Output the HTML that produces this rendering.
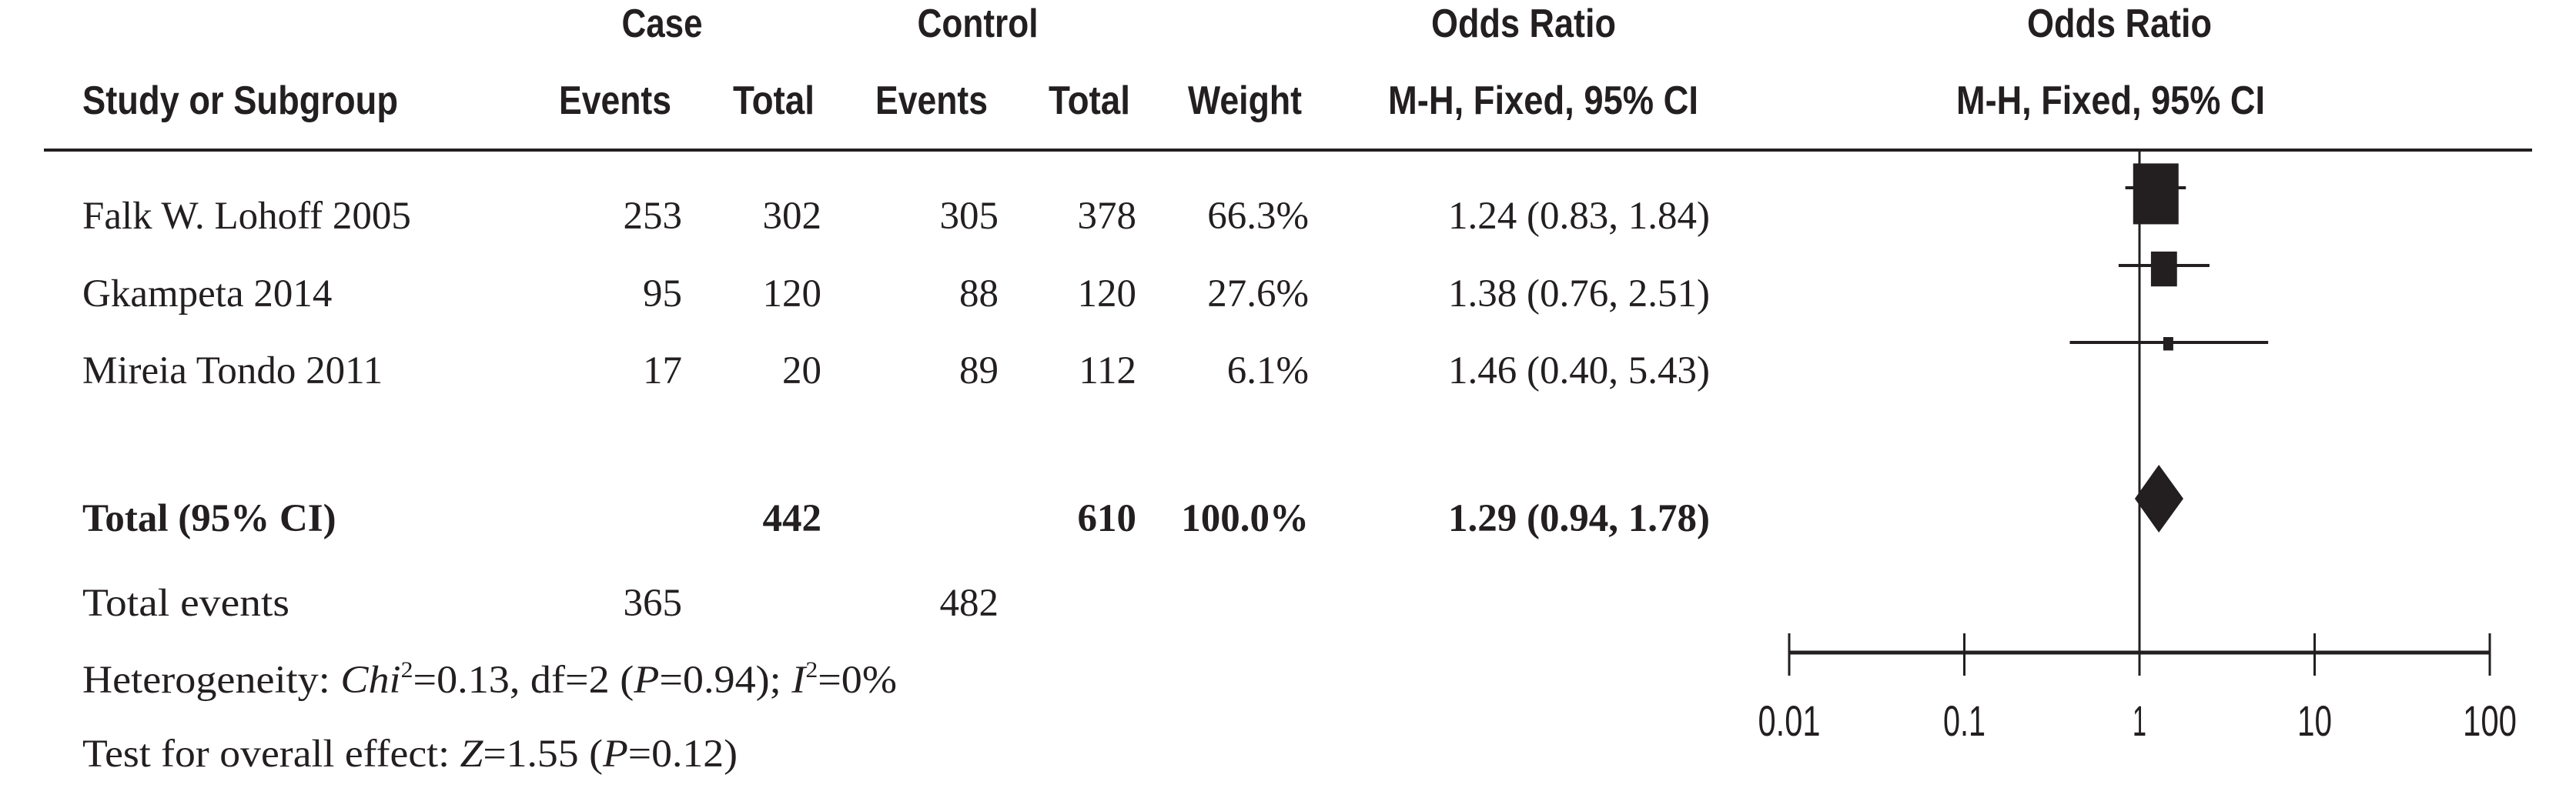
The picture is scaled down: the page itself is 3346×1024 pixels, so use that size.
<!DOCTYPE html>
<html><head><meta charset="utf-8"><style>
html,body{margin:0;padding:0;background:#fff;}
svg{display:block;}
.h{font-family:"Liberation Sans",Arial,sans-serif;font-weight:bold;font-size:52px;fill:#231f20;}
.b{font-family:"Liberation Serif","Times New Roman",serif;font-size:51px;fill:#231f20;}
.bb{font-weight:bold;}
.t{font-family:"Liberation Sans",Arial,sans-serif;font-size:56px;fill:#231f20;}
</style></head><body>
<svg id="chart" width="3346" height="1024" viewBox="0 0 3346 1024" xmlns="http://www.w3.org/2000/svg">
<rect width="3346" height="1024" fill="#fff"/>
<g>
<text class="h" x="860" y="48" text-anchor="middle" textLength="105" lengthAdjust="spacingAndGlyphs">Case</text>
<text class="h" x="1270" y="48" text-anchor="middle" textLength="157" lengthAdjust="spacingAndGlyphs">Control</text>
<text class="h" x="1979" y="48" text-anchor="middle" textLength="240" lengthAdjust="spacingAndGlyphs">Odds Ratio</text>
<text class="h" x="2753" y="48" text-anchor="middle" textLength="240" lengthAdjust="spacingAndGlyphs">Odds Ratio</text>
<text class="h" x="107" y="148" textLength="410" lengthAdjust="spacingAndGlyphs">Study or Subgroup</text>
<text class="h" x="726" y="148" textLength="146" lengthAdjust="spacingAndGlyphs">Events</text>
<text class="h" x="952" y="148" textLength="106" lengthAdjust="spacingAndGlyphs">Total</text>
<text class="h" x="1137" y="148" textLength="146" lengthAdjust="spacingAndGlyphs">Events</text>
<text class="h" x="1362" y="148" textLength="106" lengthAdjust="spacingAndGlyphs">Total</text>
<text class="h" x="1543" y="148" textLength="148" lengthAdjust="spacingAndGlyphs">Weight</text>
<text class="h" x="1803" y="148" textLength="403" lengthAdjust="spacingAndGlyphs">M-H, Fixed, 95% CI</text>
<text class="h" x="2541" y="148" textLength="401" lengthAdjust="spacingAndGlyphs">M-H, Fixed, 95% CI</text>
</g>
<line x1="57" y1="195" x2="3289" y2="195" stroke="#231f20" stroke-width="4"/>
<g id="table"></g>
<g id="plot"></g>
<g>
<text class="b" x="107" y="800" textLength="269" lengthAdjust="spacingAndGlyphs">Total events</text>
<text class="b" x="886" y="800" text-anchor="end">365</text>
<text class="b" x="1297" y="800" text-anchor="end">482</text>
<text class="b" x="107" y="900" textLength="1058" lengthAdjust="spacingAndGlyphs">Heterogeneity: <tspan font-style="italic">Chi</tspan><tspan font-size="30" dy="-20">2</tspan><tspan dy="20">=0.13, df=2 (</tspan><tspan font-style="italic">P</tspan>=0.94); <tspan font-style="italic">I</tspan><tspan font-size="30" dy="-20">2</tspan><tspan dy="20">=0%</tspan></text>
<text class="b" x="107" y="996" textLength="851" lengthAdjust="spacingAndGlyphs">Test for overall effect: <tspan font-style="italic">Z</tspan>=1.55 (<tspan font-style="italic">P</tspan>=0.12)</text>
</g>
</svg>
<script>
const studies = ["Falk W. Lohoff  2005", "Gkampeta 2014", "Mireia Tondo 2011"];
const caseEvents = [253, 95, 17];
const caseTotals = [302, 120, 20];
const ctrlEvents = [305, 88, 89];
const ctrlTotals = [378, 120, 112];
const weights = [66.3, 27.6, 6.1];
const orVals = [1.24, 1.38, 1.46];
const lowVals = [0.83, 0.76, 0.40];
const highVals = [1.84, 2.51, 5.43];
const totalOR = [1.29, 0.94, 1.78];
const totalCounts = [442, 610];
const ticks = [0.01, 0.1, 1, 10, 100];
const tickLabels = ["0.01", "0.1", "1", "10", "100"];

const NS = "http://www.w3.org/2000/svg";
const X1 = 2779, DEC = 227.5;
function xScale(v){ return X1 + DEC * Math.log10(v); }
const rowBase = [297, 398, 498];
const totalBase = 690;
const f2 = v => v.toFixed(2);
function mk(tag, parent, attrs){ const e = document.createElementNS(NS, tag); for (const k in attrs) e.setAttribute(k, attrs[k]); parent.appendChild(e); return e; }
const table = document.getElementById('table');
const plot = document.getElementById('plot');

studies.forEach((s, i) => {
  const y = rowBase[i];
  const cols = [[s,107,'start'],[caseEvents[i],886,'end'],[caseTotals[i],1067,'end'],[ctrlEvents[i],1297,'end'],[ctrlTotals[i],1476,'end'],[weights[i].toFixed(1)+'%',1700,'end'],[f2(orVals[i])+' ('+f2(lowVals[i])+', '+f2(highVals[i])+')',2221,'end']];
  const names = ['study-name','case-events','case-total','control-events','control-total','weight','odds-ratio-ci'];
  cols.forEach((c, j) => {
    const t = mk('text', table, {class:'b', x:c[1], y:y, 'text-anchor':c[2]});
    t.textContent = c[0];
    
    
  });
  const cy = y - 53;
  const ci = mk('line', plot, {x1:xScale(lowVals[i]), x2:xScale(highVals[i]), y1:cy, y2:cy, stroke:'#231f20', 'stroke-width':4});
  
  
  const w = 4.13 * Math.pow(weights[i], 0.634), h = w * 1.34;
  const box = mk('rect', plot, {x:xScale(orVals[i]) - w/2, y:cy - 0.4*h, width:w, height:h, fill:'#231f20'});
  
  
});

const tcols = [['Total (95% CI)',107,'start','total-label'],[totalCounts[0],1067,'end','case-grand-total'],[totalCounts[1],1476,'end','control-grand-total'],['100.0%',1700,'end','total-weight'],[f2(totalOR[0])+' ('+f2(totalOR[1])+', '+f2(totalOR[2])+')',2221,'end','total-odds-ratio']];
tcols.forEach(c => {
  const t = mk('text', table, {class:'b bb', x:c[1], y:totalBase, 'text-anchor':c[2]});
  t.textContent = c[0];
  
  
});

const dy = 648;
const dia = mk('polygon', plot, {points:[xScale(totalOR[1])+','+dy, xScale(totalOR[0])+','+(dy-44), xScale(totalOR[2])+','+dy, xScale(totalOR[0])+','+(dy+44)].join(' '), fill:'#231f20'});



const ref = mk('line', plot, {x1:xScale(1), x2:xScale(1), y1:195, y2:848, stroke:'#231f20', 'stroke-width':3});



const axis = mk('line', plot, {x1:xScale(ticks[0]), x2:xScale(ticks[ticks.length-1]), y1:848, y2:848, stroke:'#231f20', 'stroke-width':5});


const tl = [81, 55, 18, 45, 70];
ticks.forEach((v, i) => {
  const tk = mk('line', plot, {x1:xScale(v), x2:xScale(v), y1:823, y2:878, stroke:'#231f20', 'stroke-width':3});
  
  
  const lb = mk('text', plot, {class:'t', x:xScale(v), y:956, 'text-anchor':'middle', textLength:tl[i], lengthAdjust:'spacingAndGlyphs'});
  lb.textContent = tickLabels[i];
  
  
});
</script>
</body></html>
